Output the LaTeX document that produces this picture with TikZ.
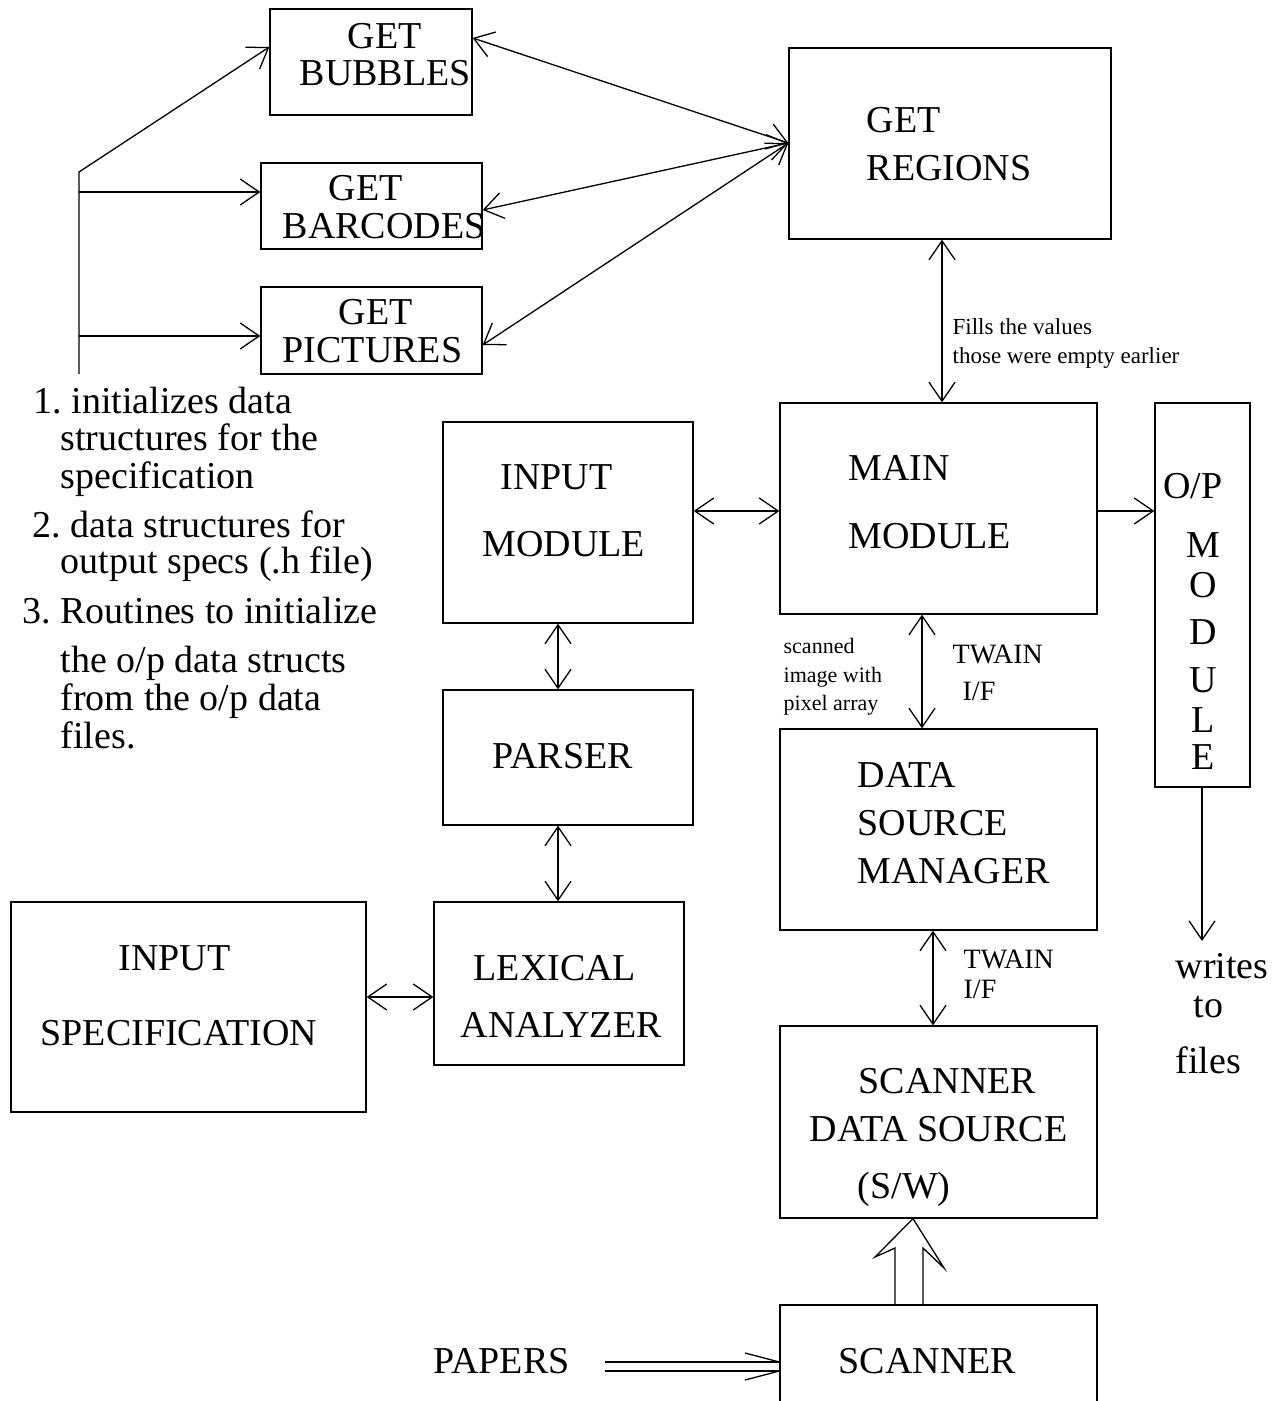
\documentclass[tikz,border=0pt]{standalone}
\usepackage{fontspec}
\setmainfont{Liberation Serif}
\usetikzlibrary{arrows.meta,fit}
\newcommand\fbig{\fontsize{19}{19}\selectfont}
\newcommand\fmid{\fontsize{14}{14}\selectfont}
\newcommand\fsm{\fontsize{11.5}{11.5}\selectfont}
\newcommand\fxs{\fontsize{11}{11}\selectfont}
\frenchspacing
\begin{document}
\begin{tikzpicture}[x=0.5pt,y=-0.5pt,line width=0.65pt,
  >={Straight Barb[length=9.5pt,width=13pt]},
  box/.style={draw,inner sep=0pt},
  tb/.style={inner sep=0pt,anchor=base west,font=\fbig},
  tc/.style={inner sep=0pt,anchor=base,font=\fbig},
  tm/.style={inner sep=0pt,anchor=base west,font=\fmid},
  ts/.style={inner sep=0pt,anchor=base west,font=\fsm},
  tx/.style={inner sep=0pt,anchor=base west,font=\fxs}]
\useasboundingbox (0,0) rectangle (1271,1401);
\fill[white] (0,0) rectangle (1271,1401);
\clip (0,0) rectangle (1271,1401);
% boxes
\node[box, fit={(270,9) (472,115)}] (bub) {};
\node[box, fit={(261,163) (482,249)}] (bar) {};
\node[box, fit={(261,287) (482,374)}] (pic) {};
\node[box, fit={(789,48) (1111,239)}] (reg) {};
\node[box, fit={(443,422) (693,623)}] (inp) {};
\node[box, fit={(780,403) (1097,614)}] (main) {};
\node[box, fit={(1155,403) (1250,787)}] (op) {};
\node[box, fit={(443,690) (693,825)}] (par) {};
\node[box, fit={(434,902) (684,1065)}] (lex) {};
\node[box, fit={(11,902) (366,1112)}] (spec) {};
\node[box, fit={(780,729) (1097,930)}] (dsm) {};
\node[box, fit={(780,1026) (1097,1218)}] (sds) {};
\node[box, fit={(780,1305) (1097,1420)}] (scan) {};
% box texts
\node[tb] (bub1) at (347,49) {GET};
\node[tb] (bub2) at (299,86) {BUBBLES};
\node[tb] (bar1) at (328,201) {GET};
\node[tb] (bar2) at (282,239) {BARCODES};
\node[tb] (pic1) at (338,325) {GET};
\node[tb] (pic2) at (282,363) {PICTURES};
\node[tb] (reg1) at (866,133) {GET};
\node[tb] (reg2) at (866,181) {REGIONS};
\node[tb] (inp1) at (500,489) {INPUT};
\node[tb] (inp2) at (482,556) {MODULE};
\node[tb] (main1) at (848,480) {MAIN};
\node[tb] (main2) at (848,548) {MODULE};
\node[tc] (op1) at (1193,498) {O/P};
\node[tc] (op2) at (1203,557) {M};
\node[tc] (op3) at (1203,597) {O};
\node[tc] (op4) at (1203,644) {D};
\node[tc] (op5) at (1203,692) {U};
\node[tc] (op6) at (1203,732) {L};
\node[tc] (op7) at (1203,769) {E};
\node[tb] (par1) at (492,768) {PARSER};
\node[tb] (lex1) at (473,980) {LEXICAL};
\node[tb] (lex2) at (460,1037) {ANALYZER};
\node[tb] (spec1) at (118,970) {INPUT};
\node[tb] (spec2) at (40,1045) {SPECIFICATION};
\node[tb] (dsm1) at (857,787) {DATA};
\node[tb] (dsm2) at (857,835) {SOURCE};
\node[tb] (dsm3) at (857,883) {MANAGER};
\node[tb] (sds1) at (858,1093) {SCANNER};
\node[tb] (sds2) at (809,1141) {DATA SOURCE};
\node[tb] (sds3) at (857,1198) {(S/W)};
\node[tb] (scan1) at (838,1373) {SCANNER};
\node[tb] (papers) at (433,1373) {PAPERS};
\node[tb] (wr1) at (1175,978) {writes};
\node[tb] (wr2) at (1193,1017) {to};
\node[tb] (wr3) at (1175,1073) {files};
% labels
\node[ts] (fill1) at (952,335) {Fills the values};
\node[ts] (fill2) at (952,364) {those were empty earlier};
\node[tx] (scn1) at (783,653) {scanned};
\node[tx] (scn2) at (783,682) {image with};
\node[tx] (scn3) at (783,710) {pixel array};
\node[tm] (tw1) at (952,663) {TWAIN};
\node[tm] (if1) at (962,700) {I/F};
\node[tm] (tw2) at (963,968) {TWAIN};
\node[tm] (if2) at (963,998) {I/F};
% left list
\node[tb] (l1) at (33,413) {1. initializes data};
\node[tb] (l2) at (60,450) {structures for the};
\node[tb] (l3) at (60,488) {specification};
\node[tb] (l4) at (32,537) {2. data structures for};
\node[tb] (l5) at (60,573) {output specs (.h file)};
\node[tb] (l6) at (22,623) {3. Routines to initialize};
\node[tb] (l7) at (60,672) {the o/p data structs};
\node[tb] (l8) at (60,710) {from the o/p data};
\node[tb] (l9) at (60,748) {files.};
% connectors
\coordinate (trtop) at (79,172);
\coordinate (trbot) at (79,374);
\coordinate (trbar) at (79,192);
\coordinate (trpic) at (79,336);
\draw[->] (trbot) -- (trtop) -- (bub.west |- 0,47);
\draw[->] (trbar) -- (bar.west |- 0,192);
\draw[->] (trpic) -- (pic.west |- 0,336);
\draw[<->] (bub.east |- 0,38) -- (reg.west |- 0,143);
\draw[<->] (bar.east |- 0,210) -- (reg.west |- 0,143);
\draw[<->] (pic.east |- 0,345) -- (reg.west |- 0,143);
\draw[<->] (reg.south -| 942,0) -- (main.north -| 942,0);
\draw[<->] (inp.east |- 0,511) -- (main.west |- 0,511);
\draw[->] (main.east |- 0,511) -- (op.west |- 0,511);
\draw[<->] (main.south -| 922,0) -- (dsm.north -| 922,0);
\draw[<->] (inp.south -| 558,0) -- (par.north -| 558,0);
\draw[<->] (par.south -| 558,0) -- (lex.north -| 558,0);
\draw[<->] (spec.east |- 0,997) -- (lex.west |- 0,997);
\draw[<->] (dsm.south -| 933,0) -- (sds.north -| 933,0);
\coordinate (wr) at (1202,941);
\draw[->] (op.south -| 1202,0) -- (wr);
% hollow arrow scanner -> data source
\draw[line join=miter] (scan.north -| 923,0) -- (923,1248) -- (944,1268) -- (sds.south -| 913,0) -- (875,1257) -- (895,1248) -- (scan.north -| 895,0);
% papers double arrow
\coordinate (pp1) at (605,1362);
\coordinate (pp2) at (605,1371);
\coordinate (pb1) at (745,1353);
\coordinate (pb2) at (745,1380);
\draw (pp1) -- (scan.west |- 0,1362);
\draw (pp2) -- (scan.west |- 0,1371);
\draw (pb1) -- (scan.west |- 0,1362);
\draw (pb2) -- (scan.west |- 0,1371);
\end{tikzpicture}
\end{document}
